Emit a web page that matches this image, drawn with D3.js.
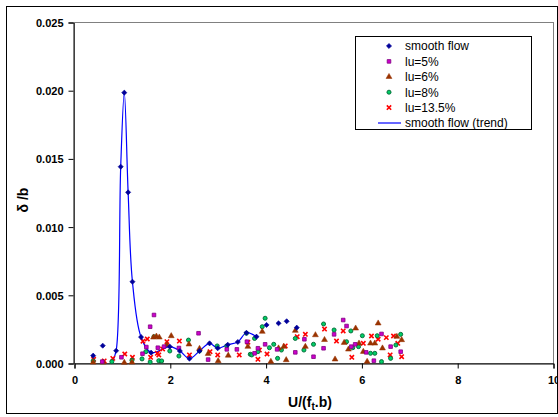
<!DOCTYPE html>
<html>
<head>
<meta charset="utf-8">
<script src="https://cdn.jsdelivr.net/npm/d3@7"></script>
<style>
 body { margin: 0; background: #fff; }
 svg { font-family: "Liberation Sans", Arial, sans-serif; }
 .tick text { font-weight: bold; font-size: 11px; fill: #000; }
</style>
</head>
<body>
<svg width="558" height="417"></svg>
<script>
// Values.

var xTicks = [0, 2, 4, 6, 8, 10];
var yTicks = [0, 0.005, 0.010, 0.015, 0.020, 0.025];

var smoothU = [0.40, 0.60, 0.88, 0.975, 1.05, 1.13, 1.22, 1.40, 1.61, 2.0, 2.21, 2.41, 2.62, 2.83, 3.0, 3.21, 3.42, 3.6, 3.81, 4.02, 4.27, 4.44, 4.65];
var smoothD = [0.00054, 0.00127, 0.00090, 0.01439, 0.01982, 0.01251, 0.00596, 0.0019, 0.00076, 0.0012, 0.00088, 0.00032, 0.00088, 0.00144, 0.00108, 0.00134, 0.00154, 0.00222, 0.00193, 0.00279, 0.00291, 0.00306, 0.00259];

var trendU = [0.80, 0.88, 0.975, 1.05, 1.13, 1.22, 1.40, 1.61, 2.0, 2.21, 2.41, 2.62, 2.83, 3.0, 3.21, 3.42, 3.6, 3.81];
var trendD = [0.0001, 0.00090, 0.01439, 0.01982, 0.01251, 0.00596, 0.0019, 0.00076, 0.0012, 0.00088, 0.00032, 0.00088, 0.00144, 0.00108, 0.00134, 0.00154, 0.00222, 0.00193];

var lu5U = [0.59, 0.99, 1.43, 1.51, 1.59, 1.67, 1.75, 1.88, 2.19, 2.6, 2.8, 3.19, 3.4, 3.61, 3.77, 3.84, 3.99, 4.24, 4.62, 4.81, 5.0, 5.21, 5.43, 5.62, 5.69, 5.79, 5.87, 6.1, 6.26, 6.42, 6.61, 6.82];
var lu5D = [0.0001, 0.00042, 0.00068, 0.00117, 0.00266, 0.00352, 0.00112, 0.0012, 0.0011, 0.00218, 0.00025, 0.001, 0.001, 0.00156, 0.00071, 0.00108, 0.00137, 0.001, 0.00078, 0.00174, 0.00046, 0.00108, 0.0021, 0.00315, 0.00271, 0.0012, 0.00137, 0.00078, 0.00017, 0.00213, 0.0012, 0.00083];

var lu6U = [0.40, 0.61, 1.05, 1.21, 1.66, 1.72, 1.78, 1.94, 2.03, 2.4, 2.62, 2.8, 3.01, 3.22, 3.63, 3.93, 4.11, 4.27, 4.38, 4.43, 4.62, 4.83, 5.04, 5.23, 5.45, 5.64, 5.73, 5.88, 5.95, 6.04, 6.12, 6.19, 6.28, 6.35, 6.44, 6.74, 6.84];
var lu6D = [0.00005, 0.00005, 0.00003, 0.00005, 0.00188, 0.00195, 0.00188, 0.00132, 0.00198, 0.00137, 0.00105, 0.00068, 0.00015, 0.00055, 0.0012, 0.0023, 0.0001, 0.00108, 0.0012, 0.00022, 0.00237, 0.0012, 0.00205, 0.0017, 0.00027, 0.00149, 0.001, 0.00254, 0.00144, 0.00083, 0.0001, 0.00144, 0.00144, 0.00291, 0.00108, 0.00193, 0.00169];

var lu8U = [0.40, 0.79, 1.21, 1.42, 1.5, 1.59, 1.67, 1.77, 1.83, 2.0, 2.19, 2.39, 2.62, 2.99, 3.19, 3.6, 3.68, 3.71, 3.77, 3.84, 3.93, 3.99, 4.08, 4.17, 4.25, 4.33, 4.62, 4.8, 5.0, 5.21, 5.43, 5.69, 5.78, 5.82, 5.94, 6.02, 6.19, 6.28, 6.33, 6.42, 6.61, 6.72, 6.82];
var lu8D = [0.00015, 0.0001, 0.0002, 0.0003, 0.00083, 0.00007, 0.00193, 0.00017, 0.00015, 0.00088, 0.00051, 0.00168, 0.00088, 0.00125, 0.00125, 0.00218, 0.00064, 0.00059, 0.0018, 0.00083, 0.00266, 0.00328, 0.00112, 0.00137, 0.00034, 0.00095, 0.0018, 0.00095, 0.00137, 0.00286, 0.00242, 0.00156, 0.00235, 0.00112, 0.0012, 0.002, 0.00071, 0.00071, 0.002, 0.0001, 0.00034, 0.00132, 0.0021];

var lu135U = [0.41, 0.63, 0.81, 1.06, 1.22, 1.44, 1.53, 1.6, 1.74, 1.77, 1.85, 1.94, 2.2, 2.41, 2.84, 3.0, 3.45, 3.63, 3.84, 3.87, 4.03, 4.41, 4.66, 4.83, 5.23, 5.48, 5.62, 5.8, 6.04, 6.21, 6.35, 6.52, 6.6, 6.67, 6.76, 6.84];
var lu135D = [0.00027, 0.00015, 0.00034, 0.00066, 0.00042, 0.0016, 0.00176, 0.00042, 0.00071, 0.00059, 0.00103, 0.00156, 0.00161, 0.00059, 0.00083, 0.00059, 0.00059, 0.00152, 0.00027, 0.00095, 0.00066, 0.00125, 0.00193, 0.0021, 0.00249, 0.00161, 0.00235, 0.00042, 0.00144, 0.00198, 0.00174, 0.00186, 0.00059, 0.00198, 0.00144, 0.00046];

var legendNames = ['smooth flow', 'lu=5%', 'lu=6%', 'lu=8%', 'lu=13.5%', 'smooth flow (trend)'];

// Layout.

var svg = d3.select('svg');
var plot = {left: 74, right: 553, top: 22, bottom: 363};

var x = d3.scaleLinear().domain([0, 10]).range([plot.left, plot.right]);
var y = d3.scaleLinear().domain([0, 0.025]).range([plot.bottom, plot.top]);

// Outer chart border and plot area border.

svg.append('rect')
 .attr('x', 6.5).attr('y', 6.5)
 .attr('width', 551).attr('height', 407)
 .attr('fill', '#fff').attr('stroke', '#000');

svg.append('rect')
 .attr('x', plot.left + 0.5).attr('y', plot.top + 0.5)
 .attr('width', plot.right - plot.left).attr('height', plot.bottom - plot.top)
 .attr('fill', 'none').attr('stroke', '#808080');

// Axes.

svg.append('g')
 .attr('transform', 'translate(0.5,' + (plot.bottom + 0.5) + ')')
 .call(d3.axisBottom(x).tickValues(xTicks).tickSize(5).tickPadding(8).tickFormat(d3.format('d')));

var yAxis = svg.append('g')
 .attr('transform', 'translate(' + (plot.left - 0.5) + ',0.5)')
 .call(d3.axisLeft(y).tickValues(yTicks).tickSize(5).tickPadding(5).tickFormat(d3.format('.3f')));

svg.selectAll('.domain').attr('stroke', '#000');
svg.selectAll('.tick line').attr('stroke', '#000');
yAxis.selectAll('.tick text').attr('dy', '0.36em');

// Axis titles.

var xt = svg.append('text')
 .attr('x', 310).attr('y', 407)
 .attr('text-anchor', 'middle')
 .attr('font-weight', 'bold').attr('font-size', '14px');
xt.append('tspan').text('U/(f');
xt.append('tspan').attr('font-size', '10px').attr('dy', '3').text('t');
xt.append('tspan').attr('dy', '-3').text('.b)');

svg.append('text')
 .attr('transform', 'translate(28,200) rotate(-90)')
 .attr('text-anchor', 'middle')
 .attr('font-weight', 'bold').attr('font-size', '14px')
 .text('\u03b4 /b');

// Marker styles (diamond = square turned 45 degrees, like Excel's).

var styles = [
 {type: d3.symbolSquare, size: 13, rot: 45, fill: '#000099', stroke: '#000099', sw: 0.6},
 {type: d3.symbolSquare, size: 13, rot: 0, fill: '#cc00cc', stroke: '#800080', sw: 0.8},
 {type: d3.symbolTriangle, size: 15, rot: 0, fill: '#993300', stroke: '#993300', sw: 0.5},
 {type: d3.symbolCircle, size: 13, rot: 0, fill: '#00cc66', stroke: '#006633', sw: 0.9},
 {type: d3.symbolX, size: 14, rot: 0, fill: 'none', stroke: '#ff0000', sw: 1.6}
];

var series = [
 [smoothU, smoothD], [lu5U, lu5D], [lu6U, lu6D], [lu8U, lu8D], [lu135U, lu135D]
];

// Trend line (smoothed).

var trend = trendU.map(function(u, i) { return [u, trendD[i]]; });
svg.append('path')
 .datum(trend)
 .attr('fill', 'none')
 .attr('stroke', '#0000ff')
 .attr('stroke-width', 1.2)
 .attr('d', d3.line()
  .x(function(d) { return x(d[0]); })
  .y(function(d) { return y(d[1]); })
  .curve(d3.curveCatmullRom.alpha(0.5)));

// Scatter series, drawn with lu=13.5% at the bottom and smooth flow on top.

for (var s = series.length - 1; s >= 0; s--) {
 var st = styles[s];
 var pts = series[s][0].map(function(u, i) { return [u, series[s][1][i]]; });
 svg.append('g')
  .selectAll('path')
  .data(pts)
  .enter().append('path')
  .attr('transform', function(d) { return 'translate(' + x(d[0]) + ',' + y(d[1]) + ') rotate(' + st.rot + ')'; })
  .attr('d', d3.symbol().type(st.type).size(st.size))
  .attr('fill', st.fill)
  .attr('stroke', st.stroke)
  .attr('stroke-width', st.sw);
}

// Legend.

var lg = svg.append('g');
lg.append('rect')
 .attr('x', 355.5).attr('y', 36.5)
 .attr('width', 176).attr('height', 93)
 .attr('fill', '#fff').attr('stroke', '#000');

var rowY = d3.scalePoint().domain(legendNames).range([46, 123]);

legendNames.forEach(function(name, i) {
 var yy = rowY(name);
 if (i < 5) {
  var st = styles[i];
  lg.append('path')
   .attr('transform', 'translate(389,' + yy + ') rotate(' + st.rot + ')')
   .attr('d', d3.symbol().type(st.type).size(st.size))
   .attr('fill', st.fill)
   .attr('stroke', st.stroke)
   .attr('stroke-width', st.sw);
 } else {
  lg.append('line')
   .attr('x1', 378).attr('x2', 401)
   .attr('y1', yy).attr('y2', yy)
   .attr('stroke', '#0000ff').attr('stroke-width', 1.2);
 }
 lg.append('text')
  .attr('x', 405).attr('y', yy)
  .attr('dy', '0.36em')
  .attr('font-size', '12px')
  .text(name);
});
</script>
</body>
</html>
